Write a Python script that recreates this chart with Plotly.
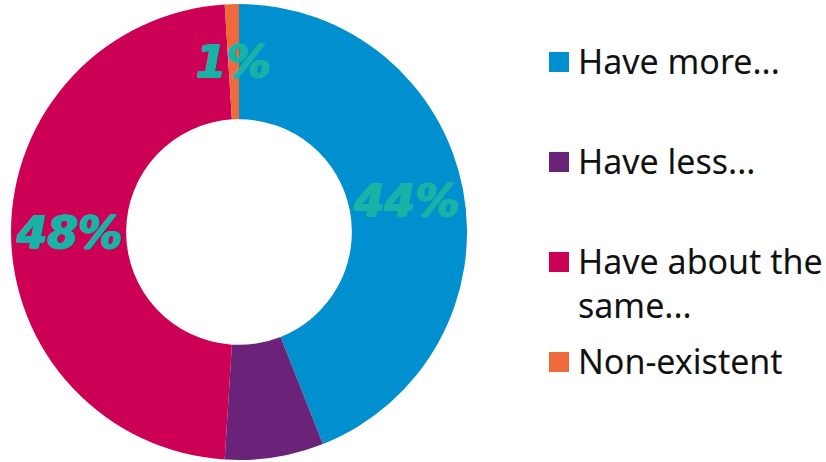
import math
import plotly.graph_objects as go

# Survey answers and their shares (%)
categories = ["Have more...", "Have less...", "Have about the same...", "Non-existent"]
legend_labels = ["Have more...", "Have less...", "Have about the<br>same...", "Non-existent"]
shares = [44, 7, 48, 1]
show_label = [True, False, True, True]
colors = ["#008FCF", "#6A2379", "#CC0055", "#EE6A3A"]

W, H = 826, 462
CX, CY, R_OUT = 239, 232, 228
HOLE = 0.495
TEAL = "#19B2A6"

fig = go.Figure(
    go.Pie(
        labels=categories,
        values=shares,
        hole=HOLE,
        sort=False,
        direction="clockwise",
        rotation=0,
        marker=dict(colors=colors, line=dict(color="white", width=0)),
        textinfo="none",
        hoverinfo="label+percent",
        showlegend=False,
        domain=dict(x=[(CX - R_OUT) / W, (CX + R_OUT) / W],
                    y=[1 - (CY + R_OUT) / H, 1 - (CY - R_OUT) / H]),
    )
)

# Percentage labels placed mid-ring at each slice's mid-angle
total = sum(shares)
r_mid = R_OUT * (1 + HOLE) / 2
cum = 0
annotations = []
for cat, v, show in zip(categories, shares, show_label):
    mid = (cum + v / 2) / total * 2 * math.pi
    cum += v
    if not show:
        continue
    px = CX + r_mid * math.sin(mid)
    py = CY - r_mid * math.cos(mid)
    annotations.append(dict(
        x=px / W, y=1 - py / H, xref="paper", yref="paper",
        text=f"{round(v / total * 100)}%", showarrow=False,
        font=dict(family="DejaVu Sans", size=44, color=TEAL,
                  weight="bold", style="italic",
                  shadow=f"1px 0 0 {TEAL}, -1px 0 0 {TEAL}, 0 1px 0 {TEAL}"),
        xanchor="center", yanchor="middle",
    ))

# Legend drawn as colored squares with text
legend_y = [62, 162, 262, 362]
shapes = []
for lab, col, ly in zip(legend_labels, colors, legend_y):
    shapes.append(dict(type="rect", xref="paper", yref="paper",
                       x0=549 / W, x1=569 / W,
                       y0=1 - (ly + 10) / H, y1=1 - (ly - 10) / H,
                       fillcolor=col, line=dict(width=0)))
    annotations.append(dict(
        x=576 / W, y=1 - (ly - 26) / H, xref="paper", yref="paper",
        text=lab, showarrow=False, align="left",
        xanchor="left", yanchor="top",
        font=dict(family="Noto Sans", size=34, color="#111111"),
    ))

fig.update_layout(
    width=W, height=H,
    margin=dict(l=0, r=0, t=0, b=0),
    paper_bgcolor="white", plot_bgcolor="white",
    annotations=annotations, shapes=shapes,
)

fig.write_html("out.html")
